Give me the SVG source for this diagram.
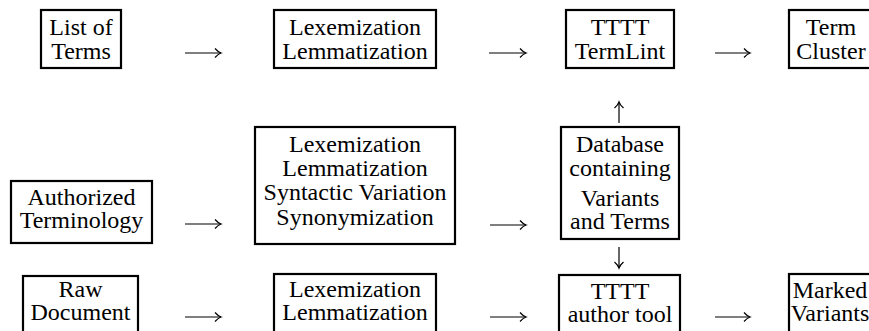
<svg xmlns="http://www.w3.org/2000/svg" width="869" height="331" viewBox="0 0 869 331" font-family="Liberation Serif" font-size="24">
<style>
.box{fill:#fff;stroke:#000;stroke-width:2.2}
.t{fill:#000;text-anchor:middle}
.ar{stroke:#000;stroke-width:1.2;fill:none;marker-end:url(#ah)}
</style>
<defs>
<marker id="ah" markerUnits="userSpaceOnUse" viewBox="-7 -5 8 10" refX="0" refY="0" markerWidth="8" markerHeight="10" orient="auto" overflow="visible">
<path d="M -6,-4.5 Q -2.8,-0.9 0,0 Q -2.8,0.9 -6,4.5" fill="none" stroke="#000" stroke-width="1.2"/>
</marker>
</defs>
<rect width="869" height="331" fill="#fff"/>
<g id="n-list-of-terms">
<rect class="box" x="41" y="10" width="80" height="58"/>
<text class="t" x="81" y="35">List of</text>
<text class="t" x="81" y="59">Terms</text>
</g>
<g id="n-lex1">
<rect class="box" x="274" y="10" width="162" height="58"/>
<text class="t" x="355" y="35">Lexemization</text>
<text class="t" x="355" y="59">Lemmatization</text>
</g>
<g id="n-termlint">
<rect class="box" x="566" y="10" width="108" height="58"/>
<text class="t" x="620" y="35">TTTT</text>
<text class="t" x="620" y="59">TermLint</text>
</g>
<g id="n-term-cluster">
<rect class="box" x="789" y="10" width="95" height="58"/>
<text class="t" x="831" y="35">Term</text>
<text class="t" x="831" y="59">Cluster</text>
</g>
<g id="n-authorized">
<rect class="box" x="11" y="181" width="141" height="62"/>
<text class="t" x="81.5" y="205">Authorized</text>
<text class="t" x="81.5" y="228">Terminology</text>
</g>
<g id="n-lex2">
<rect class="box" x="255" y="127" width="200" height="117"/>
<text class="t" x="355" y="152">Lexemization</text>
<text class="t" x="355" y="176">Lemmatization</text>
<text class="t" x="355" y="200">Syntactic Variation</text>
<text class="t" x="355" y="225">Synonymization</text>
</g>
<g id="n-database">
<rect class="box" x="561" y="127" width="118" height="112"/>
<text class="t" x="620" y="152">Database</text>
<text class="t" x="620" y="176">containing</text>
<text class="t" x="620" y="206">Variants</text>
<text class="t" x="620" y="229">and Terms</text>
</g>
<g id="n-raw">
<rect class="box" x="23" y="276" width="115" height="70"/>
<text class="t" x="80.5" y="297">Raw</text>
<text class="t" x="80.5" y="320">Document</text>
</g>
<g id="n-lex3">
<rect class="box" x="274" y="274" width="162" height="72"/>
<text class="t" x="355" y="297">Lexemization</text>
<text class="t" x="355" y="320">Lemmatization</text>
</g>
<g id="n-author-tool">
<rect class="box" x="559" y="275" width="121" height="71"/>
<text class="t" x="620" y="299">TTTT</text>
<text class="t" x="620" y="322">author tool</text>
</g>
<g id="n-marked">
<rect class="box" x="789" y="274" width="95" height="72"/>
<text class="t" x="830" y="298">Marked</text>
<text class="t" x="830" y="321">Variants</text>
</g>
<g id="connectors">
<line class="ar" x1="185" y1="53" x2="221" y2="53"/>
<line class="ar" x1="489" y1="53" x2="526" y2="53"/>
<line class="ar" x1="715" y1="53" x2="750" y2="53"/>
<line class="ar" x1="185" y1="224" x2="221" y2="224"/>
<line class="ar" x1="490" y1="225" x2="526" y2="225"/>
<line class="ar" x1="185" y1="317" x2="221" y2="317"/>
<line class="ar" x1="490" y1="317" x2="526" y2="317"/>
<line class="ar" x1="715" y1="317" x2="750" y2="317"/>
<line class="ar" x1="619" y1="123" x2="619" y2="102"/>
<line class="ar" x1="619" y1="247" x2="619" y2="268"/>
</g>
</svg>
